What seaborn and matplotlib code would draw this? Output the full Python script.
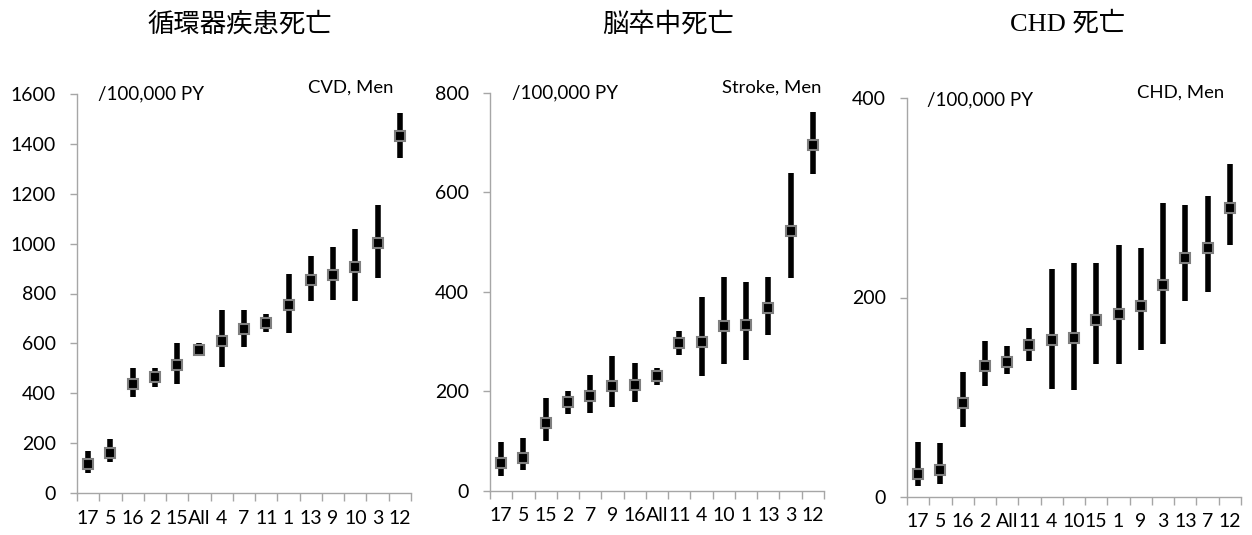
import matplotlib
matplotlib.use("Agg")
import matplotlib.pyplot as plt
import seaborn as sns
import pandas as pd
import numpy as np
from matplotlib.ticker import FixedLocator, NullFormatter

cvd_labels = ["17", "5", "16", "2", "15", "All", "4", "7", "11", "1", "13", "9", "10", "3", "12"]
cvd_est = [115, 160, 437, 464, 515, 573, 608, 658, 683, 753, 853, 875, 905, 1001, 1433]
cvd_low = [80, 125, 385, 427, 437, 548, 505, 587, 647, 643, 771, 774, 771, 863, 1342]
cvd_high = [170, 215, 500, 503, 603, 600, 735, 735, 716, 880, 950, 988, 1060, 1155, 1525]

stroke_labels = ["17", "5", "15", "2", "7", "9", "16", "All", "11", "4", "10", "1", "13", "3", "12"]
stroke_est = [55, 66, 136, 178, 190, 211, 213, 230, 296, 299, 331, 333, 368, 523, 695]
stroke_low = [30, 41, 100, 155, 156, 168, 178, 213, 273, 230, 255, 263, 313, 427, 636]
stroke_high = [97, 105, 186, 201, 233, 270, 257, 246, 322, 390, 430, 420, 430, 638, 762]

chd_labels = ["17", "5", "16", "2", "All", "11", "4", "10", "15", "1", "9", "3", "13", "7", "12"]
chd_est = [23, 27, 94, 131, 135, 152, 157, 159, 177, 183, 191, 213, 240, 250, 290]
chd_low = [11, 13, 70, 111, 123, 136, 108, 107, 133, 133, 147, 153, 196, 206, 253]
chd_high = [55, 54, 125, 156, 151, 169, 229, 235, 235, 253, 250, 295, 293, 302, 334]

titles = ["循環器疾患死亡", "脳卒中死亡", "CHD 死亡"]
tags = ["CVD, Men", "Stroke, Men", "CHD, Men"]
unit_text = "/100,000 PY"
yticks_list = [[0, 200, 400, 600, 800, 1000, 1200, 1400, 1600], [0, 200, 400, 600, 800], [0, 200, 400]]

sns.set_theme(style="white")
plt.rcParams['font.family'] = ['Lato', 'DejaVu Sans']

W, H = 1252, 535
fig = plt.figure(figsize=(W / 100, H / 100), dpi=100)

# axes pixel geometry: left, bottom(y of zero line from top), width, height
geoms = [(77, 493, 334, 399), (490, 490.7, 334, 398), (907, 496.7, 334, 398.4)]
title_x = [240, 668, 1068]
unit_pos = [(0.063, 1.0), (0.066, 1.0), (0.06, 0.995)]
tag_pos = [(0.946, 1.015, 'right'), (0.695, 1.014, 'left'), (0.949, 1.013, 'right')]

datasets = [
    (cvd_labels, cvd_est, cvd_low, cvd_high),
    (stroke_labels, stroke_est, stroke_low, stroke_high),
    (chd_labels, chd_est, chd_low, chd_high),
]

spine_col = "#a6a6a6"
tick_fs = 14

for i, (labels, est, low, high) in enumerate(datasets):
    l, y0, w, h = geoms[i]
    ax = fig.add_axes([l / W, 1 - y0 / H, w / W, h / H])
    rows = []
    for lab, e, lo, hi in zip(labels, est, low, high):
        rows += [(lab, lo), (lab, e), (lab, hi)]
    df = pd.DataFrame(rows, columns=["cat", "value"])
    sns.pointplot(data=df, x="cat", y="value", order=labels, estimator="median",
                  errorbar=("pi", 100), color="black", markers="s", linestyles="none",
                  capsize=0, err_kws={"linewidth": 4.0, "color": "black", "solid_capstyle": "butt"},
                  markersize=7.5, markeredgecolor="#7f7f7f", markeredgewidth=1.5, ax=ax)
    for ln in ax.lines:
        if ln.get_marker() == 's':
            ln.set_zorder(5)
        else:
            ln.set_solid_capstyle("butt")
    yt = yticks_list[i]
    ax.set_ylim(yt[0], yt[-1])
    ax.set_yticks(yt)
    ax.set_yticklabels([str(v) for v in yt])
    ax.set_xlim(-0.5, len(labels) - 0.5)
    ax.set_xticks(range(len(labels)))
    ax.set_xticklabels(labels)
    ax.xaxis.set_minor_locator(FixedLocator(np.arange(-0.5, len(labels), 1.0)))
    ax.xaxis.set_minor_formatter(NullFormatter())
    ax.tick_params(axis="x", which="major", length=0, pad=12, labelsize=tick_fs, colors="black")
    ax.tick_params(axis="x", which="minor", length=6, width=1, color=spine_col, direction="out", bottom=True)
    ax.tick_params(axis="y", which="major", length=5, width=1, color=spine_col, direction="out", left=True,
                   pad=10, labelsize=tick_fs, labelcolor="black")
    ax.set_xlabel("")
    ax.set_ylabel("")
    for s in ["top", "right"]:
        ax.spines[s].set_visible(False)
    for s in ["left", "bottom"]:
        ax.spines[s].set_color(spine_col)
        ax.spines[s].set_linewidth(1)
    ax.text(unit_pos[i][0], unit_pos[i][1], unit_text, transform=ax.transAxes, ha="left", va="center",
            fontsize=13.5, color="black")
    tx, ty, tha = tag_pos[i]
    ax.text(tx, ty, tags[i], transform=ax.transAxes, ha=tha, va="center", fontsize=13.3, color="black")
    fam = ['Noto Sans CJK JP', 'DejaVu Sans'] if i < 2 else ['Liberation Serif', 'Noto Sans CJK JP']
    fig.text(title_x[i] / W, 1 - 24 / H, titles[i], ha="center", va="center", fontsize=19,
             family=fam, color="black")

fig.savefig("out.png", dpi=100)
